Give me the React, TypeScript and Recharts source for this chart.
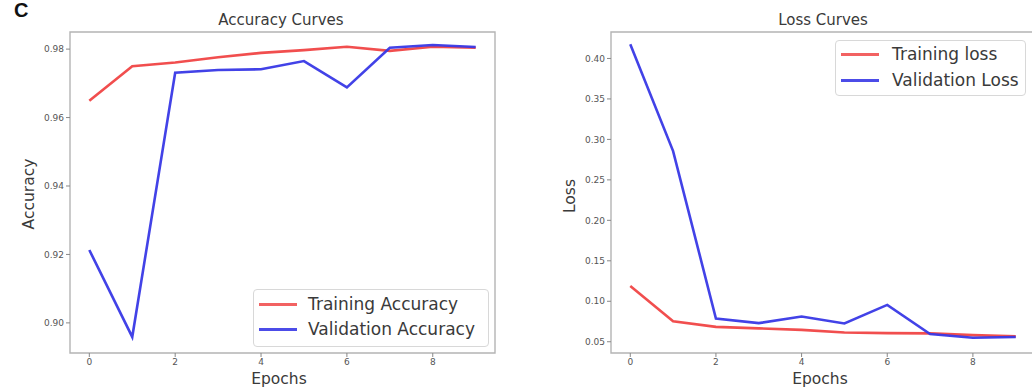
import React from 'react';
import { LineChart, Line, XAxis, YAxis, ReferenceArea } from 'recharts';

const epochs = [0, 1, 2, 3, 4, 5, 6, 7, 8, 9];
const trainAcc = [0.9649, 0.975, 0.9761, 0.9776, 0.9789, 0.9797, 0.9807, 0.9795, 0.9807, 0.9804];
const valAcc = [0.9213, 0.8959, 0.9731, 0.9739, 0.9741, 0.9765, 0.9688, 0.9804, 0.9812, 0.9806];
const trainLoss = [0.1188, 0.0754, 0.0684, 0.0665, 0.0647, 0.0615, 0.0607, 0.0603, 0.0582, 0.0566];
const valLoss = [0.4176, 0.2856, 0.0787, 0.073, 0.0812, 0.0726, 0.0955, 0.0595, 0.055, 0.0558];

const xTicks = [0, 2, 4, 6, 8];
const accTicks = [0.9, 0.92, 0.94, 0.96, 0.98];
const lossTicks = [0.05, 0.1, 0.15, 0.2, 0.25, 0.3, 0.35, 0.4];
const accLegend = ['Training Accuracy', 'Validation Accuracy'];
const lossLegend = ['Training loss', 'Validation Loss'];

const RED = '#ef3b3b';
const BLUE = '#3838e6';
const FONT = '"DejaVu Sans", Verdana, sans-serif';

const accData = epochs.map((e, i) => ({ epoch: e, train: trainAcc[i], val: valAcc[i] }));
const lossData = epochs.map((e, i) => ({ epoch: e, train: trainLoss[i], val: valLoss[i] }));

const X_DOMAIN: [number, number] = [-0.45, 9.45];
const ACC_DOMAIN: [number, number] = [0.8912, 0.985];
const LOSS_DOMAIN: [number, number] = [0.0361, 0.4327];

const tickStyle = { fontSize: 9, fill: '#555', fontFamily: FONT };

function LegendBox({ left, top, width, height, labels, lineX, textX, rows }: any) {
  return (
    <div
      style={{
        position: 'absolute',
        left,
        top,
        width,
        height,
        border: '1px solid #d8d8d8',
        borderRadius: 4,
        background: 'rgba(255,255,255,0.85)',
        boxSizing: 'border-box',
      }}
    >
      {labels.map((lab: string, i: number) => (
        <div key={lab}>
          <div
            style={{
              position: 'absolute',
              left: lineX,
              top: rows[i] - 1.5,
              width: 38,
              height: 3,
              background: i === 0 ? RED : BLUE,
              opacity: i === 0 ? 0.8 : 0.9,
            }}
          />
          <div
            style={{
              position: 'absolute',
              left: textX,
              top: rows[i] - 11,
              fontSize: 17,
              lineHeight: '22px',
              color: '#3a3a3a',
              fontFamily: FONT,
              whiteSpace: 'nowrap',
            }}
          >
            {lab}
          </div>
        </div>
      ))}
    </div>
  );
}

function Text({ left, top, size, children, rotate }: any) {
  return (
    <div
      style={{
        position: 'absolute',
        left,
        top,
        transform: `translate(-50%, -50%)${rotate ? ' rotate(-90deg)' : ''}`,
        fontSize: size,
        color: '#3a3a3a',
        fontFamily: FONT,
        whiteSpace: 'nowrap',
        lineHeight: 1,
      }}
    >
      {children}
    </div>
  );
}

export default function App() {
  return (
    <div
      style={{
        position: 'absolute',
        left: 0,
        top: 0,
        width: 1032,
        height: 389,
        overflow: 'hidden',
        background: '#fff',
        fontFamily: FONT,
      }}
    >
      <div
        style={{
          position: 'absolute',
          left: 14,
          top: 0,
          fontSize: 20,
          fontWeight: 'bold',
          fontFamily: '"Liberation Sans", Arial, sans-serif',
          color: '#111',
          lineHeight: 1,
        }}
      >
        C
      </div>

      <div style={{ position: 'absolute', left: 0, top: 0 }}>
        <LineChart width={520} height={389} data={accData} margin={{ top: 32, right: 25, bottom: 16, left: 30 }}>
          <XAxis
            dataKey="epoch"
            type="number"
            domain={X_DOMAIN}
            ticks={xTicks}
            axisLine={false}
            tickSize={4}
            tickLine={{ stroke: '#888' }}
            tick={tickStyle}
            height={20}
            allowDataOverflow
          />
          <YAxis
            type="number"
            domain={ACC_DOMAIN}
            ticks={accTicks}
            tickFormatter={(v: number) => v.toFixed(2)}
            axisLine={false}
            tickSize={4}
            tickLine={{ stroke: '#888' }}
            tick={tickStyle}
            width={40}
            allowDataOverflow
          />
          <ReferenceArea
            x1={X_DOMAIN[0]}
            x2={X_DOMAIN[1]}
            y1={ACC_DOMAIN[0]}
            y2={ACC_DOMAIN[1]}
            fill="none"
            stroke="#b4b4b4"
            strokeWidth={1.4}
          />
          <Line dataKey="train" stroke={RED} strokeWidth={2.6} strokeOpacity={0.9} dot={false} isAnimationActive={false} />
          <Line dataKey="val" stroke={BLUE} strokeWidth={2.6} strokeOpacity={0.95} dot={false} isAnimationActive={false} />
        </LineChart>
      </div>

      <div style={{ position: 'absolute', left: 520, top: 0 }}>
        <LineChart width={520} height={389} data={lossData} margin={{ top: 32, right: 5, bottom: 16, left: 51 }}>
          <XAxis
            dataKey="epoch"
            type="number"
            domain={X_DOMAIN}
            ticks={xTicks}
            axisLine={false}
            tickSize={4}
            tickLine={{ stroke: '#888' }}
            tick={tickStyle}
            height={20}
            allowDataOverflow
          />
          <YAxis
            type="number"
            domain={LOSS_DOMAIN}
            ticks={lossTicks}
            tickFormatter={(v: number) => v.toFixed(2)}
            axisLine={false}
            tickSize={4}
            tickLine={{ stroke: '#888' }}
            tick={tickStyle}
            width={40}
            allowDataOverflow
          />
          <ReferenceArea
            x1={X_DOMAIN[0]}
            x2={X_DOMAIN[1]}
            y1={LOSS_DOMAIN[0]}
            y2={LOSS_DOMAIN[1]}
            fill="none"
            stroke="#b4b4b4"
            strokeWidth={1.4}
          />
          <Line dataKey="train" stroke={RED} strokeWidth={2.6} strokeOpacity={0.9} dot={false} isAnimationActive={false} />
          <Line dataKey="val" stroke={BLUE} strokeWidth={2.6} strokeOpacity={0.95} dot={false} isAnimationActive={false} />
        </LineChart>
      </div>

      <Text left={281} top={20} size={15}>Accuracy Curves</Text>
      <Text left={823} top={20} size={15}>Loss Curves</Text>
      <Text left={279} top={380} size={15.5}>Epochs</Text>
      <Text left={820} top={380} size={15.5}>Epochs</Text>
      <Text left={30} top={194} size={15.5} rotate>Accuracy</Text>
      <Text left={571} top={196} size={15.5} rotate>Loss</Text>

      <LegendBox
        left={253}
        top={289}
        width={236}
        height={58}
        labels={accLegend}
        lineX={5}
        textX={54}
        rows={[14, 39]}
      />
      <LegendBox
        left={835}
        top={40}
        width={191}
        height={56}
        labels={lossLegend}
        lineX={5}
        textX={56}
        rows={[13, 39]}
      />
    </div>
  );
}
